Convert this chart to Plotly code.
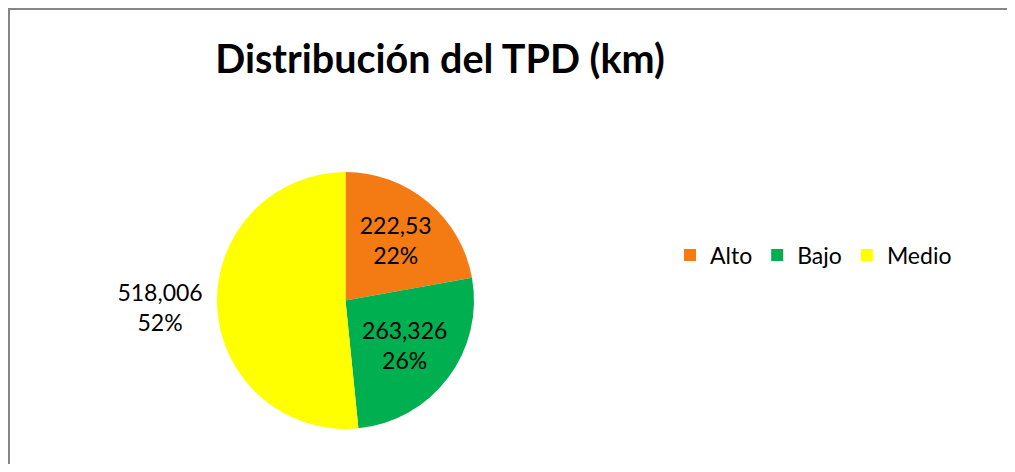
import plotly.graph_objects as go

categories = ["Alto", "Bajo", "Medio"]
values = [222.53, 263.326, 518.006]
value_labels = ["222,53", "263,326", "518,006"]
colors = ["#F47A14", "#00B050", "#FFFF00"]

# page body keeps its default 8px margin: figure sits at (8, 8) and fits the window
OFF = 8
W, H = 1015 - 2 * OFF, 472 - 2 * OFF
cx, cy, r = 345.5 - OFF, 300.5 - OFF, 128.5

FONT = "Lato, Open Sans, sans-serif"

fig = go.Figure(go.Pie(
    labels=categories,
    values=values,
    text=value_labels,
    sort=False,
    direction="clockwise",
    rotation=0,
    marker=dict(colors=colors, line=dict(width=0)),
    texttemplate="%{text}<br>%{percent:.0%}",
    textposition=["inside", "inside", "outside"],
    insidetextorientation="horizontal",
    textfont=dict(family=FONT, size=23, color="#000000"),
    hoverinfo="label+value+percent",
    domain=dict(x=[(cx - r) / W, (cx + r) / W], y=[(H - cy - r) / H, (H - cy + r) / H]),
    showlegend=True,
))

fig.update_layout(
    width=W, height=H,
    margin=dict(l=0, r=0, t=0, b=0),
    paper_bgcolor="white",
    separators=",.",
    title=dict(
        text="<b>Distribución del TPD (km)</b>",
        x=(440 - OFF) / W, xanchor="center",
        y=1 - (59 - OFF) / H, yanchor="middle",
        font=dict(family=FONT, size=39.5, color="#000000"),
    ),
    legend=dict(
        orientation="h",
        x=(670 - OFF) / W, xanchor="left",
        y=1 - (255 - OFF) / H, yanchor="middle",
        font=dict(family=FONT, size=23, color="#000000"),
        bgcolor="rgba(0,0,0,0)",
    ),
    shapes=[
        dict(type="line", xref="paper", yref="paper",
             x0=1 / W, x1=1 / W, y0=0, y1=1,
             line=dict(color="#868686", width=2)),
        dict(type="line", xref="paper", yref="paper",
             x0=0, x1=1, y0=1 - 1 / H, y1=1 - 1 / H,
             line=dict(color="#868686", width=2)),
    ],
)

fig.write_html(
    "out.html",
    config={"displayModeBar": False},
    post_script="document.documentElement.style.overflow='hidden';document.body.style.overflow='hidden';",
)
